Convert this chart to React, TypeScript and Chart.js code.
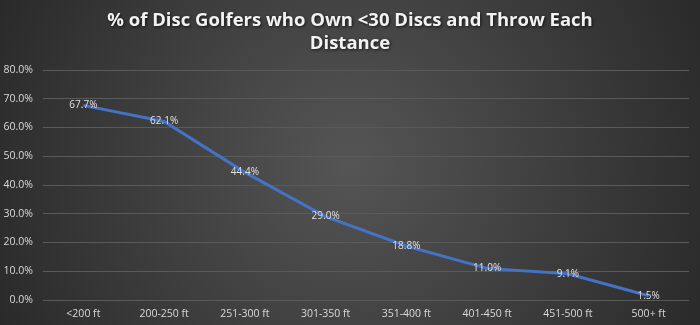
import React, { useEffect, useRef } from "react";
import { Chart, registerables } from "chart.js";

Chart.register(...registerables);

const categories = ["<200 ft", "200-250 ft", "251-300 ft", "301-350 ft", "351-400 ft", "401-450 ft", "451-500 ft", "500+ ft"];
const values = [67.7, 62.1, 44.4, 29.0, 18.8, 11.0, 9.1, 1.5];
const titleLines = ["% of Disc Golfers who Own <30 Discs and Throw Each", "Distance"];

const bgPlugin = {
  id: "bgPlugin",
  beforeDraw(chart: any) {
    const { ctx, width, height } = chart;
    ctx.save();
    const g = ctx.createRadialGradient(width / 2, height / 2, 0, width / 2, height / 2, width * 0.6);
    g.addColorStop(0, "#555555");
    g.addColorStop(1, "#262626");
    ctx.fillStyle = g;
    ctx.fillRect(0, 0, width, height);
    ctx.restore();
  },
  afterDraw(chart: any) {
    const { ctx, width } = chart;
    ctx.save();
    ctx.font = "bold 18.5px 'Open Sans'";
    ctx.fillStyle = "#f2f2f2";
    ctx.textAlign = "center";
    ctx.textBaseline = "middle";
    ctx.shadowColor = "rgba(0,0,0,0.7)";
    ctx.shadowBlur = 3;
    ctx.shadowOffsetX = 1;
    ctx.shadowOffsetY = 1;
    titleLines.forEach((t, i) => ctx.fillText(t, width / 2, 21 + i * 23));
    ctx.restore();

    // data labels
    const meta = chart.getDatasetMeta(0);
    ctx.save();
    ctx.font = "10px 'Open Sans'";
    ctx.fillStyle = "#e0e0e0";
    ctx.textAlign = "center";
    ctx.textBaseline = "middle";
    meta.data.forEach((pt: any, i: number) => {
      ctx.fillText(values[i].toFixed(1) + "%", pt.x, pt.y);
    });
    ctx.restore();
  },
};

export default function App() {
  const ref = useRef<HTMLCanvasElement>(null);
  useEffect(() => {
    const chart = new Chart(ref.current!, {
      type: "line",
      data: {
        labels: categories,
        datasets: [
          {
            data: values,
            borderColor: "#4472C4",
            borderWidth: 3,
            pointRadius: 0,
            tension: 0,
            fill: false,
          },
        ],
      },
      options: {
        responsive: false,
        animation: false,
        layout: { padding: { top: 70, right: 11, left: 0, bottom: 0 } },
        plugins: { legend: { display: false }, title: { display: false }, tooltip: { enabled: false } },
        scales: {
          x: {
            offset: true,
            grid: { display: false, drawTicks: false },
            border: { display: false },
            ticks: { color: "#d9d9d9", font: { family: "'Open Sans'", size: 10.5 }, padding: 8, maxRotation: 0 },
            afterFit(scale: any) {
              scale.height = 25;
            },
          },
          y: {
            min: 0,
            max: 80,
            grid: { color: "#5a5a5a", lineWidth: 1, drawTicks: false },
            border: { display: false },
            ticks: {
              stepSize: 10,
              color: "#d9d9d9",
              font: { family: "'Open Sans'", size: 10.5 },
              padding: 10,
              callback: (v: any) => Number(v).toFixed(1) + "%",
            },
            afterFit(scale: any) {
              scale.width = 43;
            },
          },
        },
      },
      plugins: [bgPlugin],
    });
    return () => chart.destroy();
  }, []);
  return (
    <div style={{ position: "fixed", left: 0, top: 0, width: 700, height: 325 }}>
      <canvas ref={ref} width={700} height={325} style={{ width: 700, height: 325, display: "block" }} />
    </div>
  );
}
